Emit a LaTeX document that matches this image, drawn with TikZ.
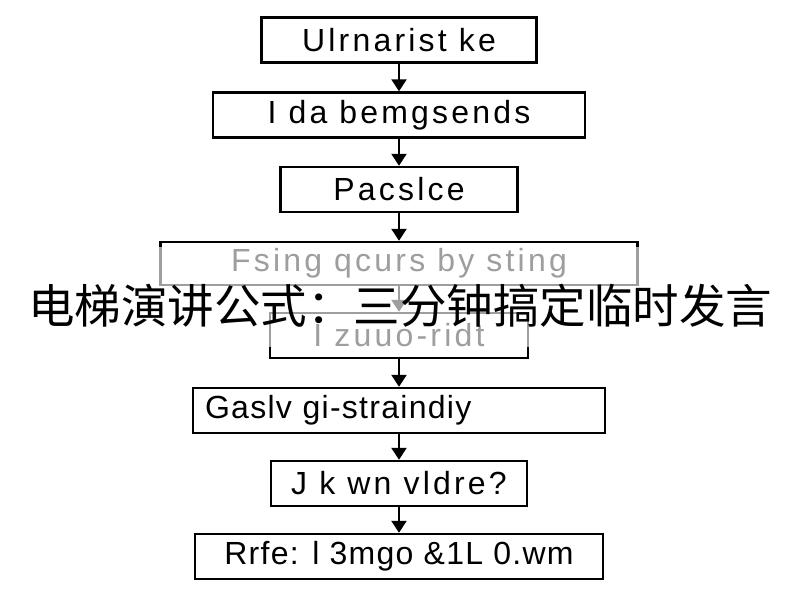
\documentclass[tikz,border=0pt]{standalone}
\usepackage{fontspec}
\setmainfont{Liberation Sans}[LetterSpace=10]
\newfontfamily\cjk{Noto Sans CJK SC}
\usetikzlibrary{arrows.meta}
\begin{document}
\begin{tikzpicture}[x=1pt,y=-1pt,
	box/.style={draw=black,line width=2.4pt,minimum height=45pt,inner sep=0pt,font=\fontsize{32}{32}\selectfont},
	tight/.style={font=\fontsize{32}{32}\selectfont\addfontfeature{LetterSpace=4}},
	arr/.style={draw=black,line width=2.2pt,-{Triangle[width=15pt,length=12pt]}}]
	\useasboundingbox[fill=white] (0,0) rectangle (800,600);
	\node[box,minimum width=275pt](s1) at (399,40){Ulrnarist ke};
	\node[box,minimum width=372pt](s2) at (399,115){I da bemgsends};
	\node[box,minimum width=237pt](s3) at (399,189.5){Pacslce};
	\node[box,minimum width=477pt,minimum height=43pt](s4) at (399,263.5){Fsing qcurs by sting};
	\node[box,minimum width=258pt](s5) at (399,335.5){I zuuo-ridt};
	\node[box,tight,minimum width=412pt,text width=388pt,align=left](s6) at (399,410.5){Gaslv gi-straindiy};
	\node[box,minimum width=256pt](s7) at (399,483.5){J k wn vldre?};
	\node[box,tight,minimum width=408pt](s8) at (399,556.5){Rrfe: l 3mgo \&1L 0.wm};
	\draw[arr](s1.south)--(s2.north);
	\draw[arr](s2.south)--(s3.north);
	\draw[arr](s3.south)--(s4.north);
	\draw[arr](s4.south)--(s5.north);
	\draw[arr](s5.south)--(s6.north);
	\draw[arr](s6.south)--(s7.north);
	\draw[arr](s7.south)--(s8.north);
	% faded band behind the title
	\fill[white,opacity=0.62](0,247) rectangle (800,347);
	\node[inner sep=0pt,font=\cjk\fontsize{46.5}{46.5}\selectfont](title) at (400,306){电梯演讲公式：三分钟搞定临时发言};
\end{tikzpicture}
\end{document}
